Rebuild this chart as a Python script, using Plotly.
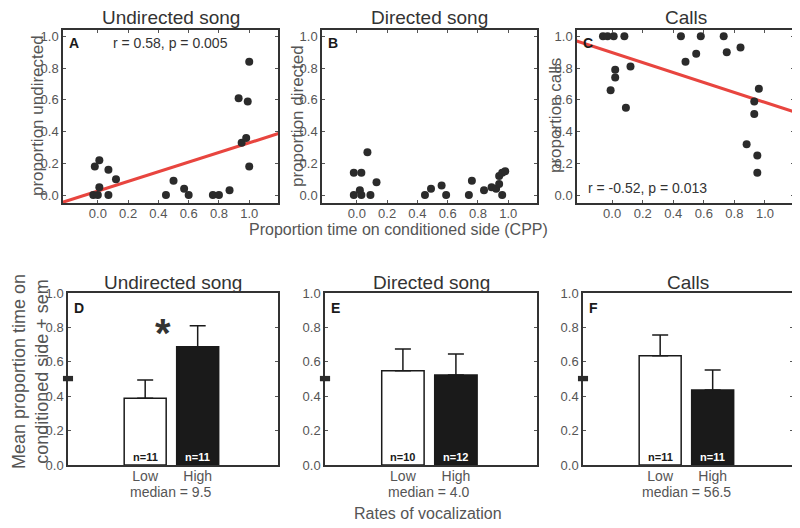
import plotly.graph_objects as go

# ---------------- data ----------------
# Panel A: undirected song
a_x = [-0.02, 0.01, 0.07, 0.12, 0.01, -0.03, 0.0, 0.07, 0.45, 0.50, 0.57, 0.60, 0.76, 0.80, 0.87, 0.93, 0.99, 1.0, 0.95, 0.98, 1.0]
a_y = [0.18, 0.22, 0.16, 0.10, 0.05, 0.0, 0.0, 0.0, 0.0, 0.09, 0.04, 0.0, 0.0, 0.0, 0.03, 0.61, 0.59, 0.84, 0.33, 0.36, 0.18]
a_fit = (0.025, 0.304)  # intercept, slope
# Panel B: directed song
b_x = [-0.02, 0.03, 0.07, 0.13, -0.02, 0.02, 0.03, 0.09, 0.45, 0.49, 0.56, 0.59, 0.74, 0.76, 0.84, 0.89, 0.92, 0.94, 0.94, 0.96, 0.96, 0.98]
b_y = [0.14, 0.14, 0.27, 0.08, 0.0, 0.03, 0.0, 0.0, 0.0, 0.04, 0.06, 0.0, 0.0, 0.09, 0.03, 0.05, 0.04, 0.07, 0.12, 0.0, 0.14, 0.15]
# Panel C: calls
c_x = [-0.06, -0.03, 0.01, 0.08, 0.45, 0.58, 0.73, -0.01, 0.02, 0.02, 0.09, 0.12, 0.48, 0.55, 0.75, 0.84, 0.93, 0.93, 0.96, 0.88, 0.95, 0.95]
c_y = [1.0, 1.0, 1.0, 1.0, 1.0, 1.0, 1.0, 0.66, 0.74, 0.79, 0.55, 0.81, 0.84, 0.89, 0.90, 0.93, 0.59, 0.51, 0.67, 0.32, 0.25, 0.14]
c_fit = (0.898, -0.314)
chance_x = 0.48
fit_x = [-0.25, 1.2]

# Bottom panels
groups = ["Low", "High"]
d_mean = [0.388, 0.688]
d_sem = [0.106, 0.122]
d_n = ["n=11", "n=11"]
e_mean = [0.548, 0.523]
e_sem = [0.126, 0.122]
e_n = ["n=10", "n=12"]
f_mean = [0.635, 0.436]
f_sem = [0.121, 0.116]
f_n = ["n=11", "n=11"]
medians = ["median = 9.5", "median = 4.0", "median = 56.5"]
top_titles = ["Undirected song", "Directed song", "Calls"]
bot_titles = ["Undirected song", "Directed song", "Calls"]
top_ylabels = ["proportion undirected", "proportion directed", "proportion calls"]
letters_top = ["A", "B", "C"]
letters_bot = ["D", "E", "F"]

NARROW = "Liberation Sans Narrow, Arial Narrow, Liberation Sans, Arial, sans-serif"
SANS = "Liberation Sans, Arial, sans-serif"
GRAY = "#555555"
DOT = "#2b2b2b"
RED = "#e8453f"

W, H = 800, 528
OFF = 8  # page body margin


def px(v):
    return (v - OFF) / W


def py(v):
    return 1 - (v - OFF) / H


fig = go.Figure()

top_dom_x = [[px(63), px(278)], [px(322), px(537)], [px(577), px(794)]]
bot_dom_x = [[px(68), px(278)], [px(325), px(537)], [px(583), px(793)]]
top_dom_y = [py(203), py(30)]
bot_dom_y = [py(465), py(293)]


def ann(**kw):
    kw.setdefault("showarrow", False)
    kw.setdefault("xanchor", "center")
    kw.setdefault("yanchor", "middle")
    fig.add_annotation(**kw)


scat = [(a_x, a_y, a_fit), (b_x, b_y, None), (c_x, c_y, c_fit)]
for i, (xs, ys, fit) in enumerate(scat):
    xa = "x" if i == 0 else f"x{i+1}"
    ya = "y" if i == 0 else f"y{i+1}"
    if fit is not None:
        fy = [fit[0] + fit[1] * v for v in fit_x]
        fig.add_trace(go.Scatter(x=fit_x, y=fy, mode="lines", line=dict(color=RED, width=3),
                                 xaxis=xa, yaxis=ya, showlegend=False, hoverinfo="skip"))
    fig.add_trace(go.Scatter(x=xs, y=ys, mode="markers", marker=dict(color=DOT, size=8),
                             xaxis=xa, yaxis=ya, showlegend=False))
    fig.add_trace(go.Scatter(x=[chance_x], y=[-0.063], mode="markers",
                             marker=dict(color=DOT, size=9, symbol="square"), cliponaxis=False,
                             xaxis=xa, yaxis=ya, showlegend=False))

bars = [(d_mean, d_sem, d_n), (e_mean, e_sem, e_n), (f_mean, f_sem, f_n)]
for i, (m, s, n) in enumerate(bars):
    k = i + 4
    fig.add_trace(go.Bar(x=groups, y=m, width=0.8,
                         marker=dict(color=["white", "#1a1a1a"], line=dict(color="#1a1a1a", width=1.5)),
                         error_y=dict(type="data", symmetric=False, array=s, arrayminus=[0, 0],
                                      color="#1a1a1a", thickness=1.5, width=8),
                         xaxis=f"x{k}", yaxis=f"y{k}", showlegend=False))
    for j, g in enumerate(groups):
        ann(x=g, y=0, xref=f"x{k}", yref=f"y{k}", text=f"<b>{n[j]}</b>", yanchor="bottom", yshift=0,
            font=dict(family=SANS, size=11, color="#1a1a1a" if j == 0 else "white"))
    fig.add_shape(type="rect", xref=f"x{k} domain", yref=f"y{k}", x0=-0.024, x1=0.024,
                  y0=0.487, y1=0.518, fillcolor="#2b2b2b", line=dict(width=0))
    ann(x=0.5, y=0, xref=f"x{k}", yref=f"y{k}", text=medians[i], yshift=-27,
        font=dict(family=NARROW, size=14, color=GRAY))
    ann(x=0.5, xref=f"x{k} domain", y=py(282), yref="paper", text=bot_titles[i],
        font=dict(family=NARROW, size=19, color="#333333"))
    ann(x=0.02, xref=f"x{k} domain", y=0.97, yref=f"y{k} domain", text=f"<b>{letters_bot[i]}</b>",
        xanchor="left", yanchor="top", font=dict(family=SANS, size=14, color="#1a1a1a"))

# significance star
ann(x=0.34, y=0.77, xref="x4", yref="y4", text="<b>*</b>",
    font=dict(family=SANS, size=40, color="#333333"))

frame = dict(showline=True, linecolor="#333333", linewidth=1.5, mirror="ticks", zeroline=False,
             showgrid=False, ticks="inside", ticklen=3, tickcolor="#555555",
             tickfont=dict(family=NARROW, size=13, color=GRAY))

layout = dict(width=W, height=H, margin=dict(l=0, r=0, t=0, b=0, pad=0, autoexpand=False),
              paper_bgcolor="white", plot_bgcolor="white", bargap=0.2)
for i in range(3):
    xk = "xaxis" if i == 0 else f"xaxis{i+1}"
    yk = "yaxis" if i == 0 else f"yaxis{i+1}"
    ya = "y" if i == 0 else f"y{i+1}"
    xa = "x" if i == 0 else f"x{i+1}"
    layout[xk] = dict(frame, domain=top_dom_x[i], range=[-0.23, 1.19], tickvals=[0, 0.2, 0.4, 0.6, 0.8, 1.0],
                      tickformat=".1f", anchor=ya, ticklabelstandoff=-2)
    layout[yk] = dict(frame, domain=top_dom_y, range=[-0.05, 1.04], tickvals=[0, 0.2, 0.4, 0.6, 0.8, 1.0],
                      tickformat=".1f", anchor=xa)
for i in range(3):
    k = i + 4
    layout[f"xaxis{k}"] = dict(frame, domain=bot_dom_x[i], range=[-1.47, 2.53], ticks="",
                               anchor=f"y{k}", type="category", ticklabelstandoff=-3,
                               tickfont=dict(family=NARROW, size=14, color=GRAY))
    layout[f"yaxis{k}"] = dict(frame, domain=bot_dom_y, range=[0, 1.0], tickvals=[0, 0.2, 0.4, 0.6, 0.8, 1.0],
                               tickformat=".1f", anchor=f"x{k}")
fig.update_layout(**layout)

for i in range(3):
    xa = "x" if i == 0 else f"x{i+1}"
    ya = "y" if i == 0 else f"y{i+1}"
    ann(x=0.5, xref=f"{xa} domain", y=py(18), yref="paper", text=top_titles[i],
        font=dict(family=NARROW, size=19, color="#333333"))
    ann(x=0.02, xref=f"{xa} domain", y=0.98, yref=f"{ya} domain", text=f"<b>{letters_top[i]}</b>",
        xanchor="left", yanchor="top", font=dict(family=SANS, size=14, color="#1a1a1a"))

ylab_x = [37, 297, 555]
for i in range(3):
    ann(x=px(ylab_x[i]), xref="paper", y=py(116), yref="paper", text=top_ylabels[i],
        textangle=-90, font=dict(family=SANS, size=17, color=GRAY))

ann(x=0.5, xref="x domain", y=py(43), yref="paper", text="r = 0.58, p = 0.005",
    font=dict(family=NARROW, size=14, color="#333333"))
ann(x=px(647), xref="paper", y=py(188), yref="paper", text="r = -0.52, p = 0.013",
    font=dict(family=NARROW, size=14, color="#333333"))
ann(x=px(398), xref="paper", y=py(230), yref="paper",
    text="Proportion time on conditioned side (CPP)",
    font=dict(family=SANS, size=16, color=GRAY))
ann(x=px(428), xref="paper", y=py(513), yref="paper", text="Rates of vocalization",
    font=dict(family=SANS, size=16, color=GRAY))
ann(x=px(30), xref="paper", y=py(372), yref="paper",
    text="Mean proportion time on<br>conditioned side + sem", textangle=-90,
    font=dict(family=SANS, size=18, color=GRAY))

fig.write_html("out.html")
